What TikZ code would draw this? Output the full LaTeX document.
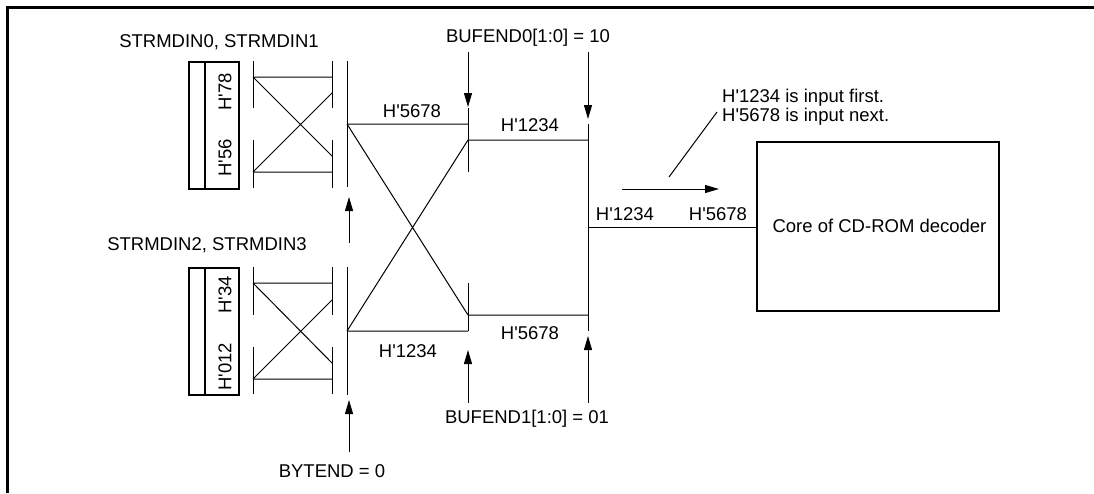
\documentclass[tikz,border=0pt]{standalone}
\usepackage{fontspec}
\setmainfont{Liberation Sans}
\usetikzlibrary{arrows.meta}
\newcommand{\Hq}{H\textquotesingle}
\begin{document}
\begin{tikzpicture}[x=1pt,y=-1pt,
  thin line/.style={line width=1pt, draw=black},
  thick box/.style={line width=2.4pt, draw=black},
  sig arrow/.style={line width=1pt, -{Triangle[length=14pt,width=8pt]}},
  lbl/.style={inner sep=0pt, anchor=base, font=\fontsize{18.5}{18.5}\selectfont},
  rlbl/.style={inner sep=0pt, anchor=center, rotate=90, font=\fontsize{18.5}{18.5}\selectfont}]
\useasboundingbox (0,0) rectangle (1094,493);
% frame (only top and left edges visible)
\draw[line width=2.4pt] (7.5,493) -- (7.5,7.5) -- (1094,7.5);

% register boxes
\node[thick box, minimum width=50pt, minimum height=127pt, inner sep=0pt, anchor=north west] (regA) at (188,61) {};
\draw[line width=2pt] (205,61) -- (205,188);
\node[thick box, minimum width=50pt, minimum height=127pt, inner sep=0pt, anchor=north west] (regB) at (188,267) {};
\draw[line width=2pt] (205,267) -- (205,394);
\node[rlbl] (h78) at (225,92) {\Hq 78};
\node[rlbl] (h56) at (225,158) {\Hq 56};
\node[rlbl] (h34) at (225,295) {\Hq 34};
\node[rlbl] (h012) at (225,367) {\Hq 012};
\node[lbl] (tA) at (219,47) {STRMDIN0, STRMDIN1};
\node[lbl] (tB) at (207,250) {STRMDIN2, STRMDIN3};

% upper swap block
\coordinate (ua1) at (253,61);  \coordinate (ua2) at (253,108);
\coordinate (ua3) at (253,140); \coordinate (ua4) at (253,188);
\coordinate (ub1) at (332,61);  \coordinate (ub2) at (332,108);
\coordinate (ub3) at (332,140); \coordinate (ub4) at (332,188);
\draw[thin line] (ua1) -- (ua2) (ua3) -- (ua4) (ub1) -- (ub2) (ub3) -- (ub4);
\coordinate (uh1l) at (253,77);  \coordinate (uh1r) at (332,77);
\coordinate (uh2l) at (253,172); \coordinate (uh2r) at (332,172);
\coordinate (ud1r) at (332,156); \coordinate (ud2r) at (332,93);
\draw[thin line] (uh1l) -- (uh1r) (uh2l) -- (uh2r) (uh1l) -- (ud1r) (uh2l) -- (ud2r);

% lower swap block
\coordinate (la1) at (253,267); \coordinate (la2) at (253,315);
\coordinate (la3) at (253,347); \coordinate (la4) at (253,394);
\coordinate (lb1) at (332,267); \coordinate (lb2) at (332,315);
\coordinate (lb3) at (332,347); \coordinate (lb4) at (332,394);
\draw[thin line] (la1) -- (la2) (la3) -- (la4) (lb1) -- (lb2) (lb3) -- (lb4);
\coordinate (lh1l) at (253,283); \coordinate (lh1r) at (332,283);
\coordinate (lh2l) at (253,379); \coordinate (lh2r) at (332,379);
\coordinate (ld1r) at (332,363); \coordinate (ld2r) at (332,300);
\draw[thin line] (lh1l) -- (lh1r) (lh2l) -- (lh2r) (lh1l) -- (ld1r) (lh2l) -- (ld2r);

% buses
\coordinate (b1t) at (347,61);  \coordinate (b1b) at (347,187);
\coordinate (b1t2) at (347,267); \coordinate (b1b2) at (347,395);
\coordinate (b2t) at (468,108); \coordinate (b2b) at (468,172);
\coordinate (b2t2) at (468,283); \coordinate (b2b2) at (468,331);
\coordinate (b3t) at (588,124); \coordinate (b3b) at (588,331);
\draw[thin line] (b1t) -- (b1b) (b1t2) -- (b1b2) (b2t) -- (b2b) (b2t2) -- (b2b2) (b3t) -- (b3b);

% data paths
\coordinate (p1) at (347,124); \coordinate (p2) at (468,124);
\coordinate (p3) at (468,140); \coordinate (p4) at (588,140);
\coordinate (q1) at (347,331); \coordinate (q2) at (468,331);
\coordinate (q3) at (468,315); \coordinate (q4) at (588,315);
\draw[thin line] (p1) -- (p2) (p3) -- (p4) (q1) -- (q2) (q3) -- (q4)
  (p1) -- (q3) (p3) -- (q1);
\node[lbl] (l1) at (412,117) {\Hq 5678};
\node[lbl] (l2) at (530,131) {\Hq 1234};
\node[lbl] (l3) at (408,357) {\Hq 1234};
\node[lbl] (l4) at (530,339) {\Hq 5678};

% core
\node[thick box, minimum width=242pt, minimum height=169pt, inner sep=0pt, anchor=north west] (core) at (756,141) {};
\node[lbl] (coret) at (879.5,232) {Core of CD-ROM decoder};
\coordinate (o1) at (588,227);
\draw[thin line] (o1) -- (o1 -| core.west);
\node[lbl] (l5) at (625,220) {\Hq 1234};
\node[lbl] (l6) at (718,220) {\Hq 5678};

% direction arrow and note
\coordinate (da1) at (622,189); \coordinate (da2) at (719,189);
\draw[sig arrow] (da1) -- (da2);
\coordinate (s1) at (669,177); \coordinate (s2) at (717,112);
\draw[thin line] (s1) -- (s2);
\node[lbl, anchor=base west] (n1) at (722,102) {\Hq 1234 is input first.};
\node[lbl, anchor=base west] (n2) at (722,121) {\Hq 5678 is input next.};

% control signals
\node[lbl] (bf0) at (528,42) {BUFEND0[1:0] = 10};
\node[lbl] (bf1) at (527,423) {BUFEND1[1:0] = 01};
\node[lbl] (byt) at (332,477) {BYTEND = 0};
\coordinate (a1s) at (468,52);  \coordinate (a1e) at (468,107);
\coordinate (a2s) at (588,52);  \coordinate (a2e) at (588,119);
\coordinate (a3s) at (468,403); \coordinate (a3e) at (468,350);
\coordinate (a4s) at (588,403); \coordinate (a4e) at (588,336);
\coordinate (a5s) at (349,243); \coordinate (a5e) at (349,197);
\coordinate (a6s) at (349,452); \coordinate (a6e) at (349,400);
\draw[sig arrow] (a1s) -- (a1e);
\draw[sig arrow] (a2s) -- (a2e);
\draw[sig arrow] (a3s) -- (a3e);
\draw[sig arrow] (a4s) -- (a4e);
\draw[sig arrow] (a5s) -- (a5e);
\draw[sig arrow] (a6s) -- (a6e);
\end{tikzpicture}
\end{document}
